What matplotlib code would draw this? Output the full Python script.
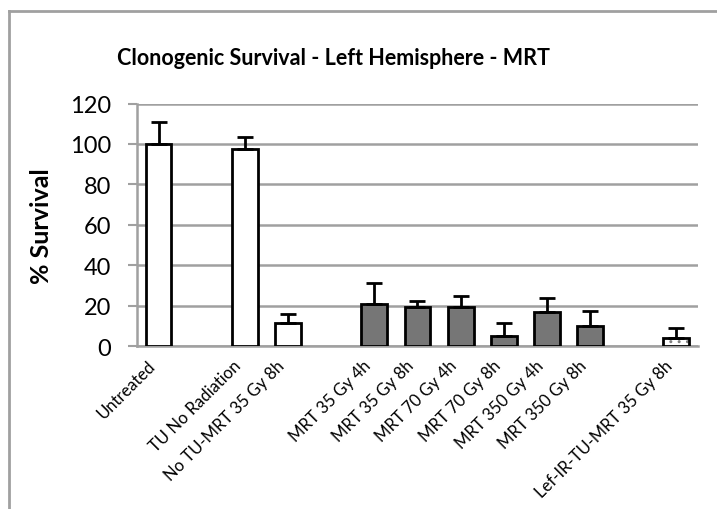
import matplotlib.pyplot as plt
from matplotlib.lines import Line2D
from matplotlib.transforms import ScaledTranslation
import numpy as np

# groups; empty strings are spacer slots between the treatment groups
categories = ['Untreated', '', 'TU No Radiation', 'No TU-MRT 35 Gy 8h', '',
              'MRT 35 Gy 4h', 'MRT 35 Gy 8h', 'MRT 70 Gy 4h', 'MRT 70 Gy 8h',
              'MRT 350 Gy 4h', 'MRT 350 Gy 8h', '', 'Lef-IR-TU-MRT 35 Gy 8h']
survival = [100, None, 97.3, 11.5, None, 20.7, 19.3, 19.3, 4.8, 16.8, 10.0, None, 4.1]
error = [11, None, 6, 4.5, None, 10.5, 3.2, 5.6, 6.6, 7.2, 7.5, None, 5.0]
group = ['ctrl', None, 'ctrl', 'ctrl', None, 'mrt', 'mrt', 'mrt', 'mrt',
         'mrt', 'mrt', None, 'lef']

plt.rcParams['font.family'] = ['Lato', 'DejaVu Sans']

fig = plt.figure(figsize=(7.17, 5.10), dpi=100)
ax = fig.add_axes([0.191, 0.3196, 0.7825, 0.4754])

x = np.arange(len(categories))
fills = {'ctrl': 'white', 'mrt': '#767676', 'lef': 'white'}
for xi, v, e, g in zip(x, survival, error, group):
    if v is None:
        continue
    if g == 'lef':
        ax.bar(xi, v, width=0.6, color='white', edgecolor='#808080',
               hatch='..', linewidth=0, zorder=3)
        ax.bar(xi, v, width=0.6, color='none', edgecolor='black',
               linewidth=2, zorder=3)
    else:
        ax.bar(xi, v, width=0.6, color=fills[g], edgecolor='black',
               linewidth=2, zorder=3)
    ax.errorbar(xi, v, yerr=[[0], [e]], color='black', elinewidth=2,
                capsize=5.6, capthick=2, zorder=4)

ax.set_xlim(-0.5, len(categories) - 0.5)
ax.set_ylim(0, 120)
ax.set_yticks(range(0, 121, 20))
ax.tick_params(axis='y', labelsize=17, length=6.5, width=1.5, color='#a0a0a0', pad=12)
ax.set_xticks(x)
ax.set_xticklabels(categories, rotation=45, ha='right', va='center',
                   rotation_mode='anchor', fontsize=12)
ax.tick_params(axis='x', length=0, pad=12)
shift = ScaledTranslation(-0.06, 0, fig.dpi_scale_trans)
for lbl in ax.get_xticklabels():
    lbl.set_transform(lbl.get_transform() + shift)
ax.grid(True, axis='y', color='#a0a0a0', linewidth=1.8, zorder=0)
ax.set_axisbelow(True)
for side in ['top', 'right']:
    ax.spines[side].set_visible(False)
for side in ['left', 'bottom']:
    ax.spines[side].set_color('#a0a0a0')
    ax.spines[side].set_linewidth(1.8)

ax.set_ylabel('% Survival', fontsize=18, fontweight='bold', labelpad=12)
fig.text(0.465, 0.885, 'Clonogenic Survival - Left Hemisphere - MRT',
         ha='center', va='center', fontsize=15.5, fontweight='bold')

# chart frame
fig.add_artist(Line2D([9 / 717, 9 / 717], [0, 1 - 12 / 510], color='#a0a0a0',
                      linewidth=2, transform=fig.transFigure))
fig.add_artist(Line2D([9 / 717, 1], [1 - 12 / 510, 1 - 12 / 510], color='#a0a0a0',
                      linewidth=2, transform=fig.transFigure))

fig.savefig('out.png', dpi=100)
